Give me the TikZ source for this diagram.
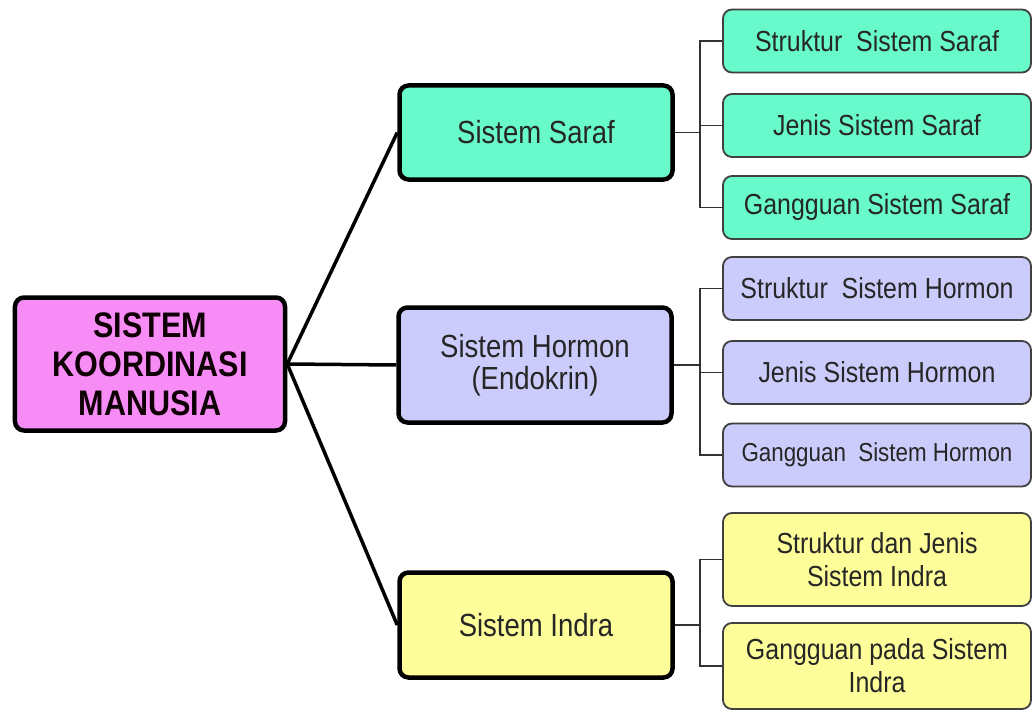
\documentclass[tikz,border=0pt]{standalone}
\usepackage{fontspec}
\setmainfont{Liberation Sans}[FakeStretch=0.86]
\definecolor{rootpink}{HTML}{F78CF7}
\definecolor{sarafgreen}{HTML}{68FACB}
\definecolor{hormonblue}{HTML}{CCCCFC}
\definecolor{indrayellow}{HTML}{FDFD9A}

\begin{document}
\begin{tikzpicture}[x=1bp,y=-1bp,
    cbox/.style={draw=black,rounded corners=9bp,align=center,inner sep=2bp},
    rootbox/.style={cbox,line width=4.5bp,fill=rootpink,minimum width=270bp,minimum height=133bp,
        font=\fontsize{35.5bp}{39bp}\selectfont\bfseries,text=black!92!purple},
    mainbox/.style={cbox,line width=4.5bp,minimum width=273bp,
        font=\fontsize{32bp}{32bp}\selectfont,text=black!85},
    subbox/.style={cbox,draw=black!75,line width=1.8bp,minimum width=308bp,minimum height=63bp,
        font=\fontsize{29bp}{33bp}\selectfont,text=black!85},
    trunk/.style={line width=3.5bp},
    branch/.style={line width=1.5bp,draw=black!80}]
\useasboundingbox[fill=white] (0,0) rectangle (1035,712);

% root and the three systems
\node[rootbox] (root) at (150,364) {SISTEM\\KOORDINASI\\MANUSIA};
\node[mainbox,fill=sarafgreen,minimum height=94bp] (saraf) at (536,132.5) {Sistem Saraf};
\node[mainbox,fill=hormonblue,minimum height=115bp] (hormon) at (535,365) {Sistem Hormon\\(Endokrin)};
\node[mainbox,fill=indrayellow,minimum height=105bp] (indra) at (536,625) {Sistem Indra};

% topics
\node[subbox,fill=sarafgreen] (saraf1) at (877,41) {Struktur~ Sistem Saraf};
\node[subbox,fill=sarafgreen] (saraf2) at (877,125.5) {Jenis Sistem Saraf};
\node[subbox,fill=sarafgreen] (saraf3) at (877,207.5) {Gangguan Sistem Saraf};
\node[subbox,fill=hormonblue] (hormon1) at (877,288.5) {Struktur~ Sistem Hormon};
\node[subbox,fill=hormonblue] (hormon2) at (877,372.5) {Jenis Sistem Hormon};
\node[subbox,fill=hormonblue,font=\fontsize{26bp}{30bp}\selectfont] (hormon3) at (877,455) {Gangguan~ Sistem Hormon};
\node[subbox,fill=indrayellow,minimum height=93bp] (indra1) at (877,559.5) {Struktur dan Jenis\\Sistem Indra};
\node[subbox,fill=indrayellow,minimum height=86bp] (indra2) at (877,666) {Gangguan pada Sistem\\Indra};

% connectors
\foreach \m in {saraf,hormon,indra}
  \draw[trunk] (root.east) -- (\m.west);
\foreach \m/\a/\b in {saraf/saraf1/saraf3,hormon/hormon1/hormon3,indra/indra1/indra2}{
  \path (\a.west) ++(-22,0) coordinate (\m bar);
  \draw[branch] (\a.west) -- (\m bar) |- (\b.west);
  \draw[branch] (\m.east) -- (\m.east -| \m bar);
}
\foreach \s in {saraf2,hormon2}
  \draw[branch] (\s.west) -- ++(-22,0);
\end{tikzpicture}
\end{document}
